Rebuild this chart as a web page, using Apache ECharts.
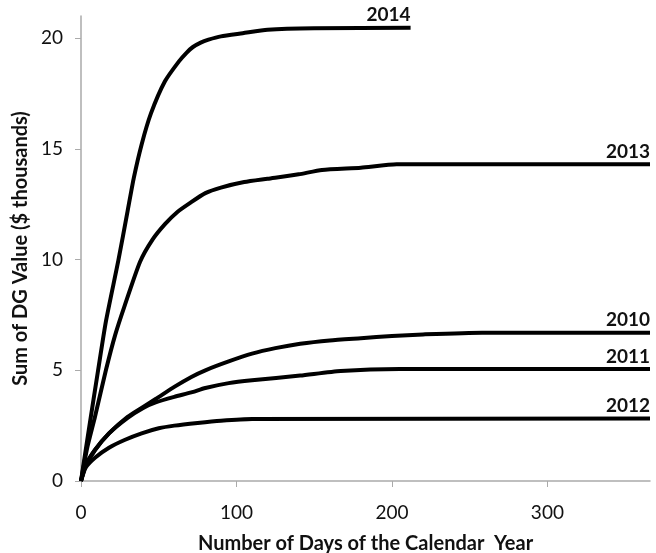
<!DOCTYPE html>
<html><head><meta charset="utf-8">
<script src="https://cdn.jsdelivr.net/npm/echarts@6/dist/echarts.min.js"></script>
<style>html,body{margin:0;padding:0;background:#fff}#c{width:656px;height:553px}</style>
</head><body><div id="c"></div>
<script>
const xTicks = [0, 100, 200, 300];
const yTicks = [0, 5, 10, 15, 20];
const seriesNames = ['2014', '2013', '2010', '2011', '2012'];
const s2014 = [[0,0],[5,2.3],[11,5.0],[16,7.2],[24,9.95],[30,12.2],[34,13.7],[39,15.2],[45,16.6],[54,18.05],[63,18.95],[68,19.35],[72,19.6],[77,19.8],[82,19.93],[90,20.08],[104,20.22],[120,20.38],[150,20.45],[212,20.47]];
const s2013 = [[0,0],[4,1.5],[9,2.9],[16,5.0],[22,6.6],[28,7.9],[38,9.9],[46,10.9],[54,11.6],[62,12.15],[70,12.55],[80,13.0],[90,13.25],[105,13.5],[120,13.65],[140,13.85],[155,14.05],[180,14.15],[203,14.3],[366,14.3]];
const s2010 = [[0,0],[3,0.7],[9,1.4],[18,2.15],[30,2.9],[40,3.35],[48,3.7],[60,4.25],[71,4.7],[80,5.0],[95,5.4],[110,5.75],[125,6.0],[141,6.2],[160,6.35],[180,6.45],[200,6.55],[220,6.62],[258,6.7],[366,6.7]];
const s2011 = [[0,0],[3,0.7],[9,1.4],[18,2.15],[30,2.85],[40,3.3],[48,3.55],[60,3.8],[71,4.0],[80,4.2],[95,4.42],[110,4.55],[141,4.76],[167,4.97],[205,5.06],[366,5.06]];
const s2012 = [[0,0],[3,0.6],[9,1.05],[18,1.5],[28,1.85],[39,2.15],[50,2.38],[60,2.5],[75,2.62],[90,2.72],[110,2.8],[366,2.82]];
const allData = [s2014, s2013, s2010, s2011, s2012];

const FONT = 'Lato';
function mk(name, data) {
  const d = data.map((p, i) => i === data.length - 1
    ? {value: p, label: {show: true, formatter: name, position: 'top', align: 'right', distance: 3,
        fontFamily: FONT, fontWeight: 'bold', fontSize: 19, color: '#111'}}
    : p);
  return {type: 'line', name: name, data: d, showSymbol: true, symbol: 'circle', symbolSize: 0.1,
    smooth: 0.2, lineStyle: {color: '#000', width: 4, join: 'round', cap: 'butt'}, itemStyle: {color: '#000'},
    silent: true, animation: false};
}
const chart = echarts.init(document.getElementById('c'), null, {renderer: 'canvas'});
chart.setOption({
  backgroundColor: '#fff',
  grid: {left: 81, right: 6, top: 16, bottom: 72, containLabel: false, outerBoundsMode: 'none'},
  xAxis: {type: 'value', min: 0, max: 366, interval: 100,
    name: 'Number of Days of the Calendar  Year', nameLocation: 'middle', nameGap: 53,
    nameTextStyle: {fontFamily: FONT, fontWeight: 'bold', fontSize: 20, color: '#111'},
    axisLine: {lineStyle: {color: '#aaaaaa', width: 1.5}},
    axisTick: {show: true, length: 6, lineStyle: {color: '#aaaaaa'}, customValues: xTicks},
    axisLabel: {customValues: xTicks, fontFamily: FONT, fontSize: 19, color: '#111', margin: 22},
    splitLine: {show: false}},
  yAxis: {type: 'value', min: 0, max: 21, interval: 5,
    name: 'Sum of DG Value ($ thousands)', nameLocation: 'middle', nameGap: 44, nameRotate: 90,
    nameTextStyle: {fontFamily: FONT, fontWeight: 'bold', fontSize: 20, color: '#111'},
    axisLine: {show: true, lineStyle: {color: '#aaaaaa', width: 1.5}},
    axisTick: {show: true, length: 6, lineStyle: {color: '#aaaaaa'}, customValues: yTicks},
    axisLabel: {customValues: yTicks, fontFamily: FONT, fontSize: 19, color: '#111', margin: 18},
    splitLine: {show: false}},
  series: seriesNames.map((n, i) => mk(n, allData[i]))
});
</script></body></html>
